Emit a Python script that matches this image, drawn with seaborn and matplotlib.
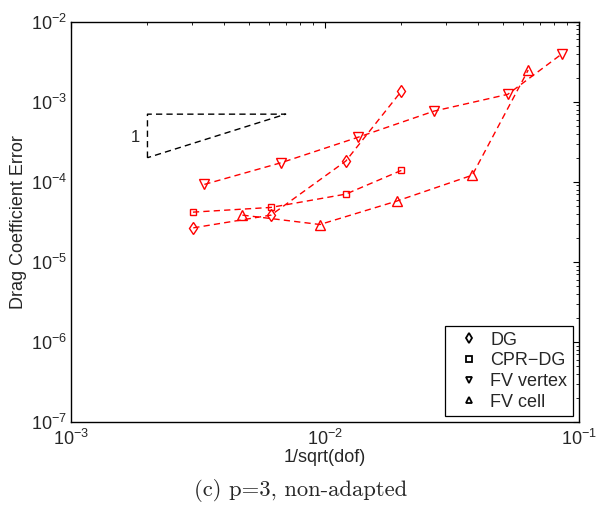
import numpy as np
import pandas as pd
import matplotlib
matplotlib.use("Agg")
import matplotlib.pyplot as plt
from matplotlib.lines import Line2D
from matplotlib.ticker import LogLocator, NullFormatter
import seaborn as sns

# ---- data ----
dg_x = [3.03e-3, 6.13e-3, 1.207e-2, 2.0e-2]
dg_y = [2.66e-5, 3.84e-5, 1.815e-4, 1.36e-3]

cpr_x = [3.02e-3, 6.13e-3, 1.207e-2, 2.0e-2]
cpr_y = [4.18e-5, 4.79e-5, 7.02e-5, 1.39e-4]

fvv_x = [3.35e-3, 6.71e-3, 1.345e-2, 2.69e-2, 5.24e-2, 8.55e-2]
fvv_y = [9.28e-5, 1.73e-4, 3.59e-4, 7.65e-4, 1.237e-3, 3.95e-3]

fvc_x = [4.73e-3, 9.55e-3, 1.914e-2, 3.8e-2, 6.31e-2]
fvc_y = [3.84e-5, 2.93e-5, 5.74e-5, 1.21e-4, 2.49e-3]

series_names = ["DG", "CPR\u2212DG", "FV vertex", "FV cell"]
series_markers = ["d", "s", "v", "^"]

tri_x = [2e-3, 2e-3, 7e-3, 2e-3]
tri_y = [2e-4, 7e-4, 7e-4, 2e-4]

# ---- plot ----
sns.set_style("white")
plt.rcParams["font.family"] = ["Liberation Sans", "DejaVu Sans"]
plt.rcParams["mathtext.fontset"] = "custom"
plt.rcParams["mathtext.rm"] = "Liberation Sans"
plt.rcParams["mathtext.it"] = "Liberation Sans:italic"

fig = plt.figure(figsize=(5.97, 5.23), dpi=100)
ax = fig.add_axes([71/597, 1 - 422/523, (579-71)/597, (422-21.7)/523])

all_x = [dg_x, cpr_x, fvv_x, fvc_x]
all_y = [dg_y, cpr_y, fvv_y, fvc_y]
msizes = [6, 4, 7, 7]
for xs, ys, m, ms in zip(all_x, all_y, series_markers, msizes):
    df = pd.DataFrame({"x": xs, "y": ys})
    sns.lineplot(data=df, x="x", y="y", ax=ax, color="red", marker=m,
                 markersize=ms, markerfacecolor="none", markeredgecolor="red",
                 markeredgewidth=1.0, linewidth=1.0, sort=False,
                 dashes=False, legend=False)
for line in ax.get_lines():
    line.set_linestyle((0, (4.5, 3)))

ax.plot(tri_x, tri_y, color="black", linewidth=1.0, linestyle=(0, (4.5, 3)))
ax.text(1.8e-3, 3.6e-4, "1", fontsize=12, ha="center", va="center")

ax.set_xscale("log")
ax.set_yscale("log")
ax.set_xlim(1e-3, 1e-1)
ax.set_ylim(1e-7, 1e-2)

ax.xaxis.set_major_locator(LogLocator(base=10, numticks=10))
ax.yaxis.set_major_locator(LogLocator(base=10, numticks=10))
ax.xaxis.set_minor_locator(LogLocator(base=10, subs=np.arange(2, 10), numticks=20))
ax.yaxis.set_minor_locator(LogLocator(base=10, subs=np.arange(2, 10), numticks=20))
ax.xaxis.set_minor_formatter(NullFormatter())
ax.yaxis.set_minor_formatter(NullFormatter())

ax.tick_params(which="both", direction="in", top=True, right=True,
               labelsize=13, color="black")
ax.tick_params(which="major", length=4, width=0.8)
ax.tick_params(which="minor", length=2, width=0.6)
ax.tick_params(axis="x", which="major", pad=5)
ax.tick_params(axis="y", which="major", pad=3)
for s in ax.spines.values():
    s.set_color("black")
    s.set_linewidth(1.0)

ax.set_xlabel("1/sqrt(dof)", fontsize=13, va="center")
ax.xaxis.set_label_coords(0.5, (422 - 457) / 400.3)
ax.set_ylabel("Drag Coefficient Error", fontsize=13, va="center")
ax.yaxis.set_label_coords((18.5 - 71) / 508, 0.5)

handles = [Line2D([], [], linestyle="none", marker=m, color="black",
                  markerfacecolor="none", markeredgewidth=1.3, markersize=s)
           for m, s in zip(series_markers, [5.5, 4, 5, 5])]
leg = ax.legend(handles, series_names, loc="lower right", fontsize=13,
                frameon=True, fancybox=False, shadow=False, framealpha=1,
                edgecolor="black", borderpad=0.3, handlelength=2.0,
                handletextpad=0.2, labelspacing=0.2, borderaxespad=0,
                bbox_to_anchor=(0.988, 0.015))
leg.get_frame().set_linewidth(0.9)

fig.text(301/597, 1 - 490.5/523, "(c) p=3, non-adapted", fontsize=16.3,
         family=["cmr10", "DejaVu Serif"], ha="center", va="center")

fig.savefig("out.png", dpi=100, facecolor="white")
